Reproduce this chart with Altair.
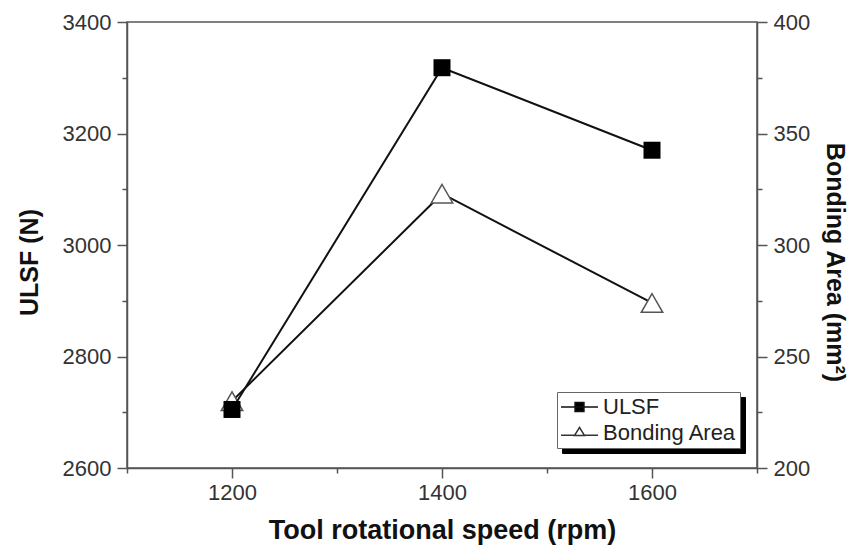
import altair as alt
import pandas as pd

speed = [1200, 1400, 1600]
ulsf = [2705, 3318, 3170]
area = [230, 323, 274]
series_names = ["ULSF", "Bonding Area"]

df = pd.DataFrame({"speed": speed, "ulsf": ulsf, "area": area})
leg_df = pd.DataFrame({"series": series_names, "shadow": series_names})

FONT = "Liberation Sans"

x_enc = alt.X(
    "speed:Q",
    scale=alt.Scale(domain=[1100, 1700], nice=False, zero=False),
    axis=alt.Axis(
        title="Tool rotational speed (rpm)",
        titleFontSize=27,
        values=list(range(1100, 1701, 100)),
        labelExpr="(datum.value - 1200) % 200 == 0 ? datum.label : ''",
        format="d",
        tickSize={"condition": {"test": "(datum.value - 1200) % 200 == 0", "value": 10}, "value": 5},
        labelPadding=4,
        titlePadding=14,
    ),
)

bond_line = alt.Chart(df).mark_line(color="#111", strokeWidth=2).encode(
    x=x_enc,
    y=alt.Y(
        "area:Q",
        scale=alt.Scale(domain=[200, 400], nice=False, zero=False),
        axis=alt.Axis(
            orient="right",
            title="Bonding Area (mm²)",
            titleFontSize=25,
            titleY=240,
            values=list(range(200, 401, 25)),
            labelExpr="datum.value % 50 == 0 ? datum.label : ''",
            format="d",
            tickSize={"condition": {"test": "datum.value % 50 == 0", "value": 10}, "value": 5},
            labelPadding=6,
            titlePadding=12,
        ),
    ),
)
bond_pts = alt.Chart(df).mark_point(
    shape="triangle-up", filled=True, fill="white", stroke="#555", strokeWidth=1.5, size=460, opacity=1
).encode(x="speed:Q", y="area:Q")

ulsf_line = alt.Chart(df).mark_line(color="#111", strokeWidth=2).encode(
    x=x_enc,
    y=alt.Y(
        "ulsf:Q",
        scale=alt.Scale(domain=[2600, 3400], nice=False, zero=False),
        axis=alt.Axis(
            orient="left",
            title="ULSF (N)",
            titleFontSize=25,
            titleY=240,
            values=list(range(2600, 3401, 100)),
            labelExpr="datum.value % 200 == 0 ? datum.label : ''",
            format="d",
            tickSize={"condition": {"test": "datum.value % 200 == 0", "value": 10}, "value": 5},
            labelPadding=6,
            titlePadding=20,
        ),
    ),
)
ulsf_pts = alt.Chart(df).mark_point(
    shape="square", filled=True, color="black", size=289, opacity=1
).encode(x="speed:Q", y="ulsf:Q")

p_ulsf = "M-1,0H1M-0.24,-0.24H0.24V0.24H-0.24Z"
p_bond = "M-1,0.12H-0.27M0.27,0.12H1M0,-0.3L0.27,0.14L-0.27,0.14Z"

common = dict(
    title=None,
    orient="none",
    padding=3,
    labelFont=FONT,
    labelFontSize=22,
    symbolStrokeWidth=1.5,
    symbolOpacity=1,
    clipHeight=24,
    rowPadding=2,
)

leg = alt.Legend(
    legendX=430,
    legendY=370,
    strokeColor="#666",
    fillColor="white",
    labelColor="#222",
    symbolSize=1369,
    labelOffset=4,
    zindex=2,
    **common,
)

shadow_leg = alt.Legend(
    legendX=435,
    legendY=375,
    strokeColor="black",
    fillColor="black",
    labelColor="black",
    symbolFillColor="black",
    symbolStrokeColor="black",
    symbolType="square",
    symbolSize=175 * 175,
    labelOffset=0,
    labelExpr="''",
    zindex=1,
    **common,
)

legend_layer = alt.Chart(leg_df).mark_point(opacity=0).encode(
    shape=alt.Shape("series:N", scale=alt.Scale(domain=series_names, range=[p_ulsf, p_bond]), legend=leg),
    fill=alt.Fill("series:N", scale=alt.Scale(domain=series_names, range=["black", "white"]), legend=leg),
    stroke=alt.Stroke("series:N", scale=alt.Scale(domain=series_names, range=["#111", "#333"]), legend=leg),
)

shadow_layer = alt.Chart(leg_df).mark_point(opacity=0).encode(
    strokeDash=alt.StrokeDash("shadow:N", legend=shadow_leg),
)

bond = alt.layer(bond_line, bond_pts)
ul = alt.layer(ulsf_line, ulsf_pts, legend_layer, shadow_layer)

chart = (
    alt.layer(bond, ul)
    .resolve_scale(y="independent")
    .properties(
        width=630,
        height=446,
        padding={"left": 119, "top": 14, "right": 96, "bottom": 77},
        autosize=alt.AutoSizeParams(type="none"),
        background="white",
    )
    .configure_view(stroke="#555", strokeWidth=1.5)
    .configure_axis(
        grid=False,
        domainColor="#555",
        domainWidth=1.5,
        tickColor="#555",
        tickWidth=1.5,
        labelFont=FONT,
        labelFontSize=22,
        labelColor="#333",
        titleFont=FONT,
        titleFontWeight="bold",
        titleColor="#111",
        labelOverlap=False,
    )
)

chart.save("out.html", embed_options={"renderer": "svg", "actions": False})
